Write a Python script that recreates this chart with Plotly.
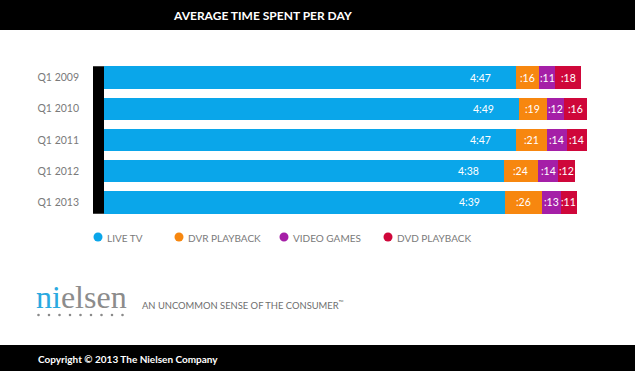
import plotly.graph_objects as go

# ---- data ----
quarters = ["Q1 2009", "Q1 2010", "Q1 2011", "Q1 2012", "Q1 2013"]
series_names = ["LIVE TV", "DVR PLAYBACK", "VIDEO GAMES", "DVD PLAYBACK"]
live_tv = [287, 289, 287, 278, 279]        # minutes (4:47, 4:49, ...)
dvr_playback = [16, 19, 21, 24, 26]
video_games = [11, 12, 14, 14, 13]
dvd_playback = [18, 16, 14, 12, 11]
live_labels = ["4:47", "4:49", "4:47", "4:38", "4:39"]

colors = ["#0aa6ea", "#f7870f", "#a51fa7", "#cf073a"]
W, H = 635, 371
ML, MR, MT, MB = 104, 28, 62, 153
PW, PH = W - ML - MR, H - MT - MB


def px(x):
    return (x - ML) / PW


def py(y):
    return (H - MB - y) / PH


fig = go.Figure()
all_series = [live_tv, dvr_playback, video_games, dvd_playback]
for name, vals, col in zip(series_names, all_series, colors):
    fig.add_trace(go.Bar(
        y=quarters, x=vals, orientation="h", name=name,
        marker=dict(color=col, line=dict(width=0)),
        showlegend=False, hoverinfo="skip",
    ))

annotations = []
valfont = dict(family="Lato, 'Open Sans', sans-serif", size=10.5, color="white")
# Live TV labels near end of the blue segment
for q, v, lab in zip(quarters, live_tv, live_labels):
    annotations.append(dict(x=v, y=q, xref="x", yref="y", text=lab, showarrow=False,
                            xanchor="right", xshift=-23, font=valfont))
# Small segment labels centered in their segments
start = list(live_tv)
for vals in all_series[1:]:
    for i, (q, v) in enumerate(zip(quarters, vals)):
        annotations.append(dict(x=start[i] + v / 2, y=q, xref="x", yref="y",
                                text=":%d" % v, showarrow=False, xanchor="center",
                                font=valfont))
        start[i] += v

shapes = []
# black axis band at left of bars
shapes.append(dict(type="rect", xref="paper", yref="y", x0=px(93), x1=0,
                   y0=-0.36, y1=len(quarters) - 1 + 0.36,
                   fillcolor="black", line=dict(width=0), layer="above"))
# top title bar
shapes.append(dict(type="rect", xref="paper", yref="paper", x0=px(0), x1=px(W),
                   y0=py(30), y1=py(0), fillcolor="black", line=dict(width=0)))
# bottom bar
shapes.append(dict(type="rect", xref="paper", yref="paper", x0=px(0), x1=px(W),
                   y0=py(H), y1=py(345), fillcolor="black", line=dict(width=0)))

annotations.append(dict(x=px(262), y=py(15.5), xref="paper", yref="paper",
                        text="AVERAGE TIME SPENT PER DAY", showarrow=False,
                        xanchor="center", yanchor="middle",
                        font=dict(family="Lato, sans-serif", size=12, color="white", weight="bold")))
annotations.append(dict(x=px(36), y=py(358.5), xref="paper", yref="paper",
                        text="Copyright © 2013 The Nielsen Company", showarrow=False,
                        xanchor="left", yanchor="middle",
                        font=dict(family="Lato, sans-serif", size=10, color="white", weight="bold")))

# legend (custom)
leg_x = [98, 179, 284, 388]
for name, col, lx in zip(series_names, colors, leg_x):
    shapes.append(dict(type="circle", xref="paper", yref="paper",
                       xsizemode="pixel", ysizemode="pixel",
                       xanchor=px(lx), yanchor=py(237),
                       x0=-4.5, x1=4.5, y0=-4.5, y1=4.5,
                       fillcolor=col, line=dict(width=0)))
    annotations.append(dict(x=px(lx + 7), y=py(237.5), xref="paper", yref="paper",
                            text=name, showarrow=False, xanchor="left", yanchor="middle",
                            font=dict(family="Lato, sans-serif", size=10, color="#7a7a7a")))

# nielsen logo
annotations.append(dict(x=px(34), y=py(309), xref="paper", yref="paper",
                        text="<span style='color:#2aa9e0'>ni</span>elsen", showarrow=False,
                        xanchor="left", yanchor="bottom", yshift=-8,
                        font=dict(family="'Liberation Serif', serif", size=32, color="#8c8c8c")))
for k in range(9):
    shapes.append(dict(type="circle", xref="paper", yref="paper",
                       xsizemode="pixel", ysizemode="pixel",
                       xanchor=px(38.5 + k * 10.5), yanchor=py(315),
                       x0=-1.3, x1=1.3, y0=-1.3, y1=1.3,
                       fillcolor="#8a8a8a", line=dict(width=0)))
annotations.append(dict(x=px(140), y=py(305), xref="paper", yref="paper",
                        text="AN UNCOMMON SENSE OF THE CONSUMER<sup>™</sup>", showarrow=False,
                        xanchor="left", yanchor="middle",
                        font=dict(family="Lato, sans-serif", size=9.4, color="#6e6e6e")))

fig.update_layout(
    width=W, height=H,
    margin=dict(l=ML, r=MR, t=MT, b=MB, pad=0),
    barmode="stack", bargap=0.28,
    plot_bgcolor="white", paper_bgcolor="white",
    xaxis=dict(range=[0, 350], visible=False, fixedrange=True),
    yaxis=dict(autorange="reversed", showgrid=False, zeroline=False, showline=False,
               ticks="", ticklabelstandoff=24,
               tickfont=dict(family="Lato, sans-serif", size=10.5, color="#7a7a7a")),
    shapes=shapes, annotations=annotations,
    showlegend=False,
)

fig.write_html("out.html", config={"displayModeBar": False},
               post_script="document.body.style.margin='0';document.body.style.overflow='hidden';")
